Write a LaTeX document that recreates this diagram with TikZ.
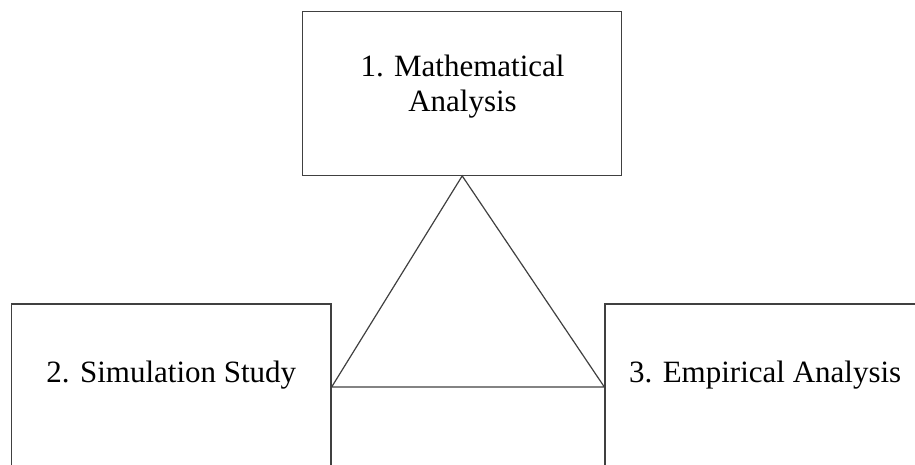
\documentclass[tikz,border=0pt]{standalone}
\usepackage{fontspec}
\setmainfont{Liberation Serif}
\begin{document}
\begin{tikzpicture}[x=1pt,y=-1pt,
  boxstyle/.style={draw=black!75,line width=1.3pt,rectangle,inner sep=0pt},
  lbl/.style={font=\fontsize{31}{35}\selectfont,inner sep=0pt,anchor=base},
  linkstyle/.style={draw=black!75,line width=1.2pt}]
\useasboundingbox (0,0) rectangle (915,465);
\clip (0,0) rectangle (915,465);
\node[boxstyle,minimum width=319pt,minimum height=163.5pt] (math) at (462.2,93.5) {};
\node[boxstyle,minimum width=319.3pt,minimum height=200pt] (sim) at (171.35,404) {};
\node[boxstyle,minimum width=322pt,minimum height=200pt] (emp) at (766,404) {};
\node[lbl] (t1a) at (462.5,77) {1. Mathematical};
\node[lbl] (t1b) at (462.5,112) {Analysis};
\node[lbl] (t2) at (171.35,382) {2. Simulation Study};
\node[lbl,anchor=base west] (t3) at (629,382) {3. Empirical Analysis};
\coordinate (lv) at (sim.east |- 0,387);
\coordinate (rv) at (emp.west |- 0,387);
\draw[linkstyle] (math.south) -- (lv) -- (rv) -- cycle;
\end{tikzpicture}
\end{document}
